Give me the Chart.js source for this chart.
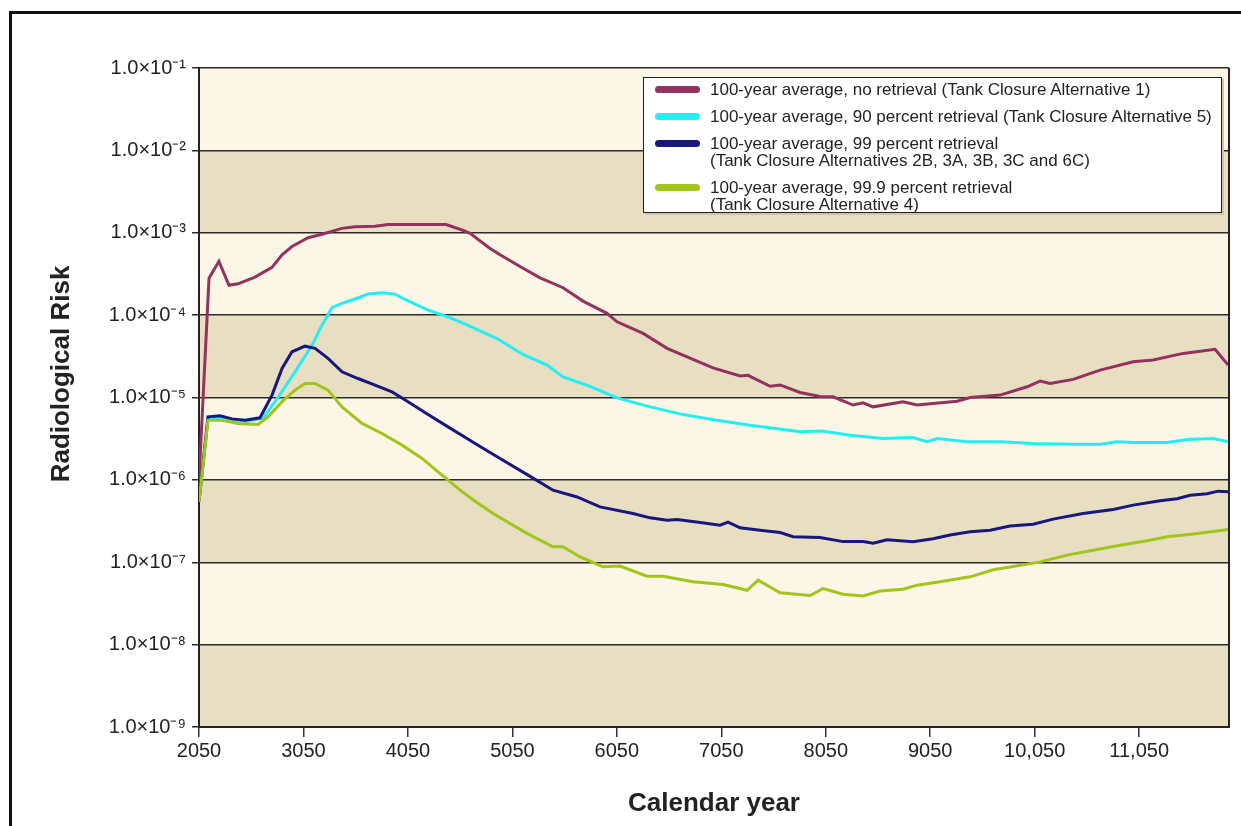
<!DOCTYPE html>
<html>
<head>
<meta charset="utf-8">
<title>Radiological Risk</title>
<script src="https://cdn.jsdelivr.net/npm/chart.js@4.4.1/dist/chart.umd.min.js"></script>
<style>
  html, body { margin: 0; padding: 0; background: #fff; }
  #wrap { position: relative; width: 1241px; height: 826px; overflow: hidden; }
  #frame { position: absolute; left: 9px; top: 11px; width: 1300px; height: 900px;
           border-left: 3px solid #111; border-top: 3px solid #111; }
  #chart { position: absolute; left: 0; top: 0; }
  #legend { position: absolute; left: 643px; top: 77px; width: 579px; height: 136px;
            padding-top: 3px; box-sizing: border-box; background: #fff;
            border: 1px solid #222; box-shadow: 2px 2px 0 #cfc6aa;
            font: 17px "Liberation Sans", Arial, sans-serif; color: #222; }
  #legend .item { display: flex; align-items: flex-start; line-height: 17px; margin-bottom: 10px; }
  #legend .bar { width: 45px; height: 7px; border-radius: 4px; margin: 5px 10px 0 11px; flex: none; }
</style>
</head>
<body>
<div id="wrap">
  <div id="frame"></div>
  <canvas id="chart" width="1241" height="826"></canvas>
  <div id="legend"></div>
</div>
<script>
// ==============================
// DATA
// ==============================
const SERIES_NAMES = [
  "100-year average, no retrieval (Tank Closure Alternative 1)",
  "100-year average, 90 percent retrieval (Tank Closure Alternative 5)",
  "100-year average, 99 percent retrieval\n(Tank Closure Alternatives 2B, 3A, 3B, 3C and 6C)",
  "100-year average, 99.9 percent retrieval\n(Tank Closure Alternative 4)"
];
const SERIES_COLORS = ["#93325f", "#24eef4", "#17177d", "#a2c51c"];

const YEARS_NO_RETRIEVAL = [2050, 2146, 2241, 2337, 2423, 2586, 2749, 2845, 2940, 3094,
  3228, 3419, 3544, 3735, 3860, 4415, 4568, 4645, 4836, 4932, 5123, 5315, 5535, 5726,
  5956, 6052, 6301, 6531, 6722, 6971, 7230, 7306, 7517, 7613, 7804, 7995, 8120, 8311,
  8407, 8503, 8790, 8924, 9307, 9432, 9719, 9977, 10102, 10197, 10418, 10676, 10992,
  11184, 11471, 11777, 11902];
const RISK_NO_RETRIEVAL = [1.0e-6, 2.8e-4, 4.5e-4, 2.3e-4, 2.4e-4, 2.9e-4, 3.8e-4, 5.4e-4,
  6.8e-4, 8.7e-4, 9.6e-4, 1.13e-3, 1.18e-3, 1.2e-3, 1.26e-3, 1.26e-3, 1.08e-3, 9.85e-4,
  6.45e-4, 5.4e-4, 3.9e-4, 2.84e-4, 2.15e-4, 1.48e-4, 1.05e-4, 8.3e-5, 6.0e-5, 3.95e-5,
  3.12e-5, 2.29e-5, 1.83e-5, 1.86e-5, 1.37e-5, 1.42e-5, 1.15e-5, 1.03e-5, 1.02e-5,
  8.1e-6, 8.6e-6, 7.7e-6, 8.9e-6, 8.1e-6, 9.0e-6, 1.0e-5, 1.07e-5, 1.35e-5, 1.58e-5,
  1.48e-5, 1.66e-5, 2.15e-5, 2.72e-5, 2.85e-5, 3.43e-5, 3.84e-5, 2.47e-5];

const YEARS_90 = [2050, 2136, 2251, 2366, 2490, 2663, 2806, 2969, 3132, 3228, 3323, 3419,
  3544, 3668, 3802, 3927, 4022, 4243, 4434, 4616, 4903, 5152, 5382, 5535, 5765, 6052,
  6368, 6684, 7009, 7325, 7641, 7804, 8015, 8283, 8599, 8886, 9020, 9116, 9403, 9719,
  10035, 10418, 10676, 10839, 10992, 11318, 11509, 11758, 11902];
const RISK_90 = [5.5e-7, 5.5e-6, 5.7e-6, 5.3e-6, 5.1e-6, 5.6e-6, 1.0e-5, 2.05e-5, 4.3e-5,
  7.6e-5, 1.23e-4, 1.39e-4, 1.57e-4, 1.8e-4, 1.87e-4, 1.8e-4, 1.55e-4, 1.15e-4, 9.5e-5,
  7.6e-5, 5.2e-5, 3.33e-5, 2.47e-5, 1.78e-5, 1.41e-5, 9.9e-6, 7.7e-6, 6.2e-6, 5.3e-6,
  4.6e-6, 4.1e-6, 3.85e-6, 3.93e-6, 3.49e-6, 3.18e-6, 3.26e-6, 2.9e-6, 3.18e-6, 2.9e-6,
  2.9e-6, 2.77e-6, 2.7e-6, 2.7e-6, 2.9e-6, 2.85e-6, 2.85e-6, 3.1e-6, 3.18e-6, 2.9e-6];

const YEARS_99 = [2050, 2136, 2251, 2366, 2490, 2634, 2749, 2845, 2940, 3065, 3161, 3285,
  3419, 3572, 3735, 3898, 4051, 4243, 4434, 4616, 4693, 4932, 5248, 5439, 5669, 5889,
  6205, 6368, 6530, 6626, 6849, 7038, 7115, 7230, 7421, 7613, 7737, 7995, 8216, 8407,
  8503, 8637, 8886, 9077, 9240, 9432, 9623, 9814, 10035, 10226, 10513, 10801, 10992,
  11251, 11413, 11538, 11700, 11806, 11902];
const RISK_99 = [5.5e-7, 5.83e-6, 6.0e-6, 5.5e-6, 5.3e-6, 5.67e-6, 1.07e-5, 2.25e-5,
  3.59e-5, 4.2e-5, 3.95e-5, 2.99e-5, 2.05e-5, 1.7e-5, 1.41e-5, 1.17e-5, 8.9e-6, 6.2e-6,
  4.4e-6, 3.18e-6, 2.77e-6, 1.82e-6, 1.05e-6, 7.5e-7, 6.2e-7, 4.7e-7, 3.9e-7, 3.46e-7,
  3.24e-7, 3.3e-7, 3.04e-7, 2.82e-7, 3.07e-7, 2.62e-7, 2.45e-7, 2.3e-7, 2.04e-7, 2.0e-7,
  1.78e-7, 1.78e-7, 1.7e-7, 1.87e-7, 1.78e-7, 1.93e-7, 2.14e-7, 2.34e-7, 2.45e-7,
  2.75e-7, 2.9e-7, 3.34e-7, 3.9e-7, 4.36e-7, 4.94e-7, 5.57e-7, 5.9e-7, 6.5e-7, 6.8e-7,
  7.3e-7, 7.2e-7];

const YEARS_999 = [2050, 2136, 2270, 2423, 2615, 2711, 2845, 2969, 3065, 3161, 3285, 3419,
  3611, 3802, 3994, 4185, 4376, 4568, 4693, 4865, 5190, 5439, 5535, 5698, 5918, 6081,
  6339, 6492, 6780, 7067, 7297, 7402, 7613, 7900, 8024, 8216, 8407, 8570, 8790, 8924,
  9144, 9432, 9652, 9843, 10102, 10360, 10609, 10868, 11126, 11318, 11567, 11902];
const RISK_999 = [5.4e-7, 5.3e-6, 5.3e-6, 4.84e-6, 4.7e-6, 5.83e-6, 8.9e-6, 1.23e-5,
  1.48e-5, 1.48e-5, 1.23e-5, 7.7e-6, 4.84e-6, 3.66e-6, 2.64e-6, 1.82e-6, 1.14e-6, 7.2e-7,
  5.5e-7, 3.9e-7, 2.24e-7, 1.54e-7, 1.54e-7, 1.16e-7, 8.8e-8, 9.0e-8, 6.76e-8, 6.76e-8,
  5.8e-8, 5.37e-8, 4.57e-8, 6.07e-8, 4.26e-8, 3.95e-8, 4.8e-8, 4.1e-8, 3.9e-8, 4.47e-8,
  4.7e-8, 5.27e-8, 5.8e-8, 6.65e-8, 8.1e-8, 8.9e-8, 1.01e-7, 1.22e-7, 1.4e-7, 1.61e-7,
  1.82e-7, 2.04e-7, 2.2e-7, 2.5e-7];

const X_TICKS = [2050, 3050, 4050, 5050, 6050, 7050, 8050, 9050, 10050, 11050];
const Y_EXPONENTS = [-9, -8, -7, -6, -5, -4, -3, -2, -1];
const X_MIN = 2050;
const X_MAX = 11910;

const X_TITLE = "Calendar year";
const Y_TITLE = "Radiological Risk";

// ==============================
// HELPERS
// ==============================
const SUP = { "-": "\u207B", "0": "\u2070", "1": "\u00B9", "2": "\u00B2", "3": "\u00B3",
  "4": "\u2074", "5": "\u2075", "6": "\u2076", "7": "\u2077", "8": "\u2078", "9": "\u2079" };

function sciLabel(v) {
  const e = Math.round(Math.log10(v));
  return "1.0\u00D710" + String(e).split("").map(c => SUP[c]).join("");
}

function yearLabel(v) {
  return v >= 10000 ? v.toLocaleString("en-US") : String(v);
}

function toPoints(xs, ys) {
  return xs.map((x, i) => ({ x: x, y: ys[i] }));
}

const FONT = "'Liberation Sans', Arial, Helvetica, sans-serif";

// alternating decade bands behind the grid
const bandsPlugin = {
  id: "bands",
  beforeDraw(chart) {
    const { ctx, chartArea: a, scales: { y } } = chart;
    ctx.save();
    Y_EXPONENTS.slice(0, -1).forEach((e, i) => {
      const yTop = y.getPixelForValue(Math.pow(10, e + 1));
      const yBot = y.getPixelForValue(Math.pow(10, e));
      ctx.fillStyle = (i % 2 === 0) ? "#e8dec2" : "#fcf6e6";
      ctx.fillRect(a.left, yTop, a.right - a.left, yBot - yTop);
    });
    ctx.restore();
  },
  afterDatasetsDraw(chart) {
    const { ctx, chartArea: a } = chart;
    ctx.save();
    ctx.strokeStyle = "#2a2020";
    ctx.lineWidth = 2;
    ctx.beginPath();
    ctx.moveTo(a.right, a.top);
    ctx.lineTo(a.right, a.bottom + 1);
    ctx.stroke();
    ctx.restore();
  },
  afterDraw(chart) {
    const { ctx } = chart;
    ctx.save();
    ctx.translate(69, 374);
    ctx.rotate(-Math.PI / 2);
    ctx.font = "bold 26px " + FONT;
    ctx.fillStyle = "#222";
    ctx.textAlign = "center";
    ctx.textBaseline = "alphabetic";
    ctx.fillText(Y_TITLE, 0, 0);
    ctx.restore();
  }
};

// html legend with two-line labels
const htmlLegendPlugin = {
  id: "htmlLegend",
  afterUpdate(chart) {
    const box = document.getElementById("legend");
    box.innerHTML = "";
    chart.data.datasets.forEach(ds => {
      const item = document.createElement("div");
      item.className = "item";
      const bar = document.createElement("span");
      bar.className = "bar";
      bar.style.background = ds.borderColor;
      const txt = document.createElement("span");
      txt.innerHTML = ds.label.replace("\n", "<br>");
      item.appendChild(bar);
      item.appendChild(txt);
      box.appendChild(item);
    });
  }
};

// ==============================
// CHART
// ==============================
const ctx = document.getElementById("chart").getContext("2d");

const datasets = [
  toPoints(YEARS_NO_RETRIEVAL, RISK_NO_RETRIEVAL),
  toPoints(YEARS_90, RISK_90),
  toPoints(YEARS_99, RISK_99),
  toPoints(YEARS_999, RISK_999)
].map((pts, i) => ({
  label: SERIES_NAMES[i],
  data: pts,
  borderColor: SERIES_COLORS[i],
  backgroundColor: SERIES_COLORS[i],
  borderWidth: 3,
  pointRadius: 0,
  tension: 0,
  fill: false,
  order: 3 - i
}));

new Chart(ctx, {
  type: "line",
  data: { datasets: datasets },
  options: {
    responsive: false,
    animation: false,
    devicePixelRatio: 1,
    layout: { padding: { top: 68, right: 12, left: 0, bottom: 0 } },
    plugins: {
      legend: { display: false },
      tooltip: { enabled: false }
    },
    scales: {
      x: {
        type: "linear",
        min: X_MIN,
        max: X_MAX,
        afterBuildTicks: axis => { axis.ticks = X_TICKS.map(v => ({ value: v })); },
        afterFit: axis => { axis.height = 99; },
        grid: { drawOnChartArea: false, drawTicks: true, tickLength: 10, color: "#333", lineWidth: 1.5 },
        border: { display: true, color: "#2a2020", width: 2 },
        ticks: {
          callback: v => yearLabel(v),
          font: { family: FONT, size: 20 },
          color: "#222",
          padding: 2,
          maxRotation: 0,
          autoSkip: false
        },
        title: {
          display: true,
          text: X_TITLE,
          font: { family: FONT, size: 26, weight: "bold" },
          color: "#222",
          padding: { top: 0, bottom: 7 }
        }
      },
      y: {
        type: "logarithmic",
        min: 1e-9,
        max: 1e-1,
        afterBuildTicks: axis => { axis.ticks = Y_EXPONENTS.map(e => ({ value: Math.pow(10, e) })); },
        afterFit: axis => { axis.width = 199; },
        grid: { drawOnChartArea: true, drawTicks: true, tickLength: 7, color: "#2b2b2b", lineWidth: 1.5 },
        border: { display: true, color: "#2a2020", width: 2 },
        ticks: {
          callback: v => sciLabel(v),
          font: { family: FONT, size: 20 },
          color: "#222",
          padding: 6,
          autoSkip: false
        }
      }
    }
  },
  plugins: [bandsPlugin, htmlLegendPlugin]
});
</script>
</body>
</html>
